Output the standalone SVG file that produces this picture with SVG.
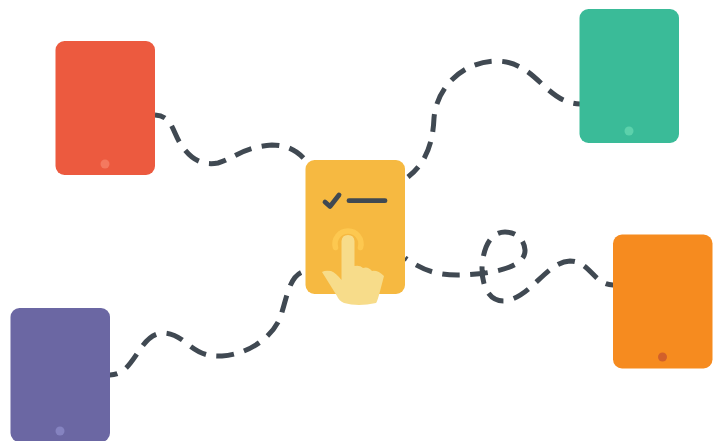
<svg xmlns="http://www.w3.org/2000/svg" width="715" height="441" viewBox="0 0 715 441">
<style>
.c{fill:none;stroke:#404952;stroke-width:5;stroke-dasharray:17.500 10.500}
.t{stroke:none}
.i{fill:none;stroke:#404952;stroke-width:4.800;stroke-linecap:round;stroke-linejoin:round}
</style>
<rect width="715" height="441" fill="#fff"/>
<g id="connectors">
<path class="c" stroke-dashoffset="7" d="M155 115C172 116 172 130 180 143C190 159 202 166 218 163C233 159 243 147 272 145C288 145 298 151 307 162"/>
<path class="c" stroke-dashoffset="3" d="M408 177C426 163 433 143 434 118C437 85 465 61 497 61C537 62 545 103 580 104"/>
<path class="c" stroke-dashoffset="10" d="M110 375C136 375 138 332 165 333C187 335 191 358 222 356C252 354 277 333 282 312C288 292 291 273 306 271"/>
<path class="c" stroke-dashoffset="15" d="M405 258C420 268 434 276 462 275C490 274 526 268 525 250C524 238 515 232 505 232C490 232 483 248 482 268C482 288 490 302 505 301C532 297 546 262 570 261C590 261 594 285 613 285"/>
</g>
<g id="node-red"><rect x="55.500" y="41" width="99.500" height="134" rx="9" fill="#ec5a3f"/><circle cx="105" cy="164" r="4.500" fill="#f4795f"/></g>
<g id="node-green"><rect x="579.500" y="9" width="99.500" height="134" rx="9" fill="#3abb98"/><circle cx="629" cy="131" r="4.500" fill="#5cd1ab"/></g>
<g id="node-orange"><rect x="613" y="234.500" width="99.500" height="134" rx="9" fill="#f68b1f"/><circle cx="662.500" cy="357" r="4.500" fill="#d2602a"/></g>
<g id="node-purple"><rect x="10.500" y="308" width="99.500" height="134" rx="9" fill="#6b67a3"/><circle cx="60" cy="431" r="4.500" fill="#8583c0"/></g>
<g id="node-center">
<rect x="305.500" y="160" width="99.500" height="134" rx="9" fill="#f6b941"/>
<path class="i" d="M325 202L330 206.500L339 195"/>
<path class="i" d="M349 200.700H385"/>
<path d="M335.500 247.500A13 13 0 1 1 360.500 247.500" fill="none" stroke="#fdc850" stroke-width="5.500" stroke-linecap="round"/>
<path d="M322 272Q325 270 331 271Q336 273 341.500 280V241Q342 235 348 235Q354 235 354.500 241V266Q360 265 363 268Q368 266 372 271Q378 270 384 276L379 295Q377 302 376 303Q358 307 344 303Q339 301 337 296Z" fill="#f7dc8a"/>
</g>
</svg>
